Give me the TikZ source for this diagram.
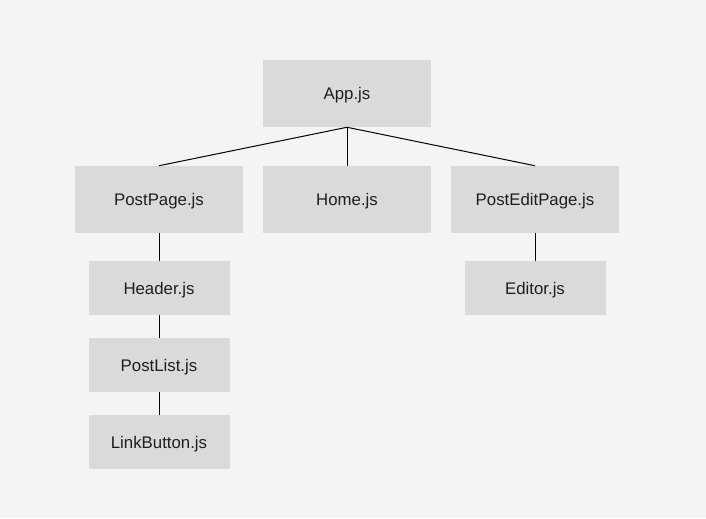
\documentclass[tikz,border=0pt]{standalone}
\usepackage{fontspec}
\setmainfont{Liberation Sans}
\definecolor{bg}{HTML}{F4F4F4}
\definecolor{boxc}{HTML}{DADADA}
\definecolor{txt}{HTML}{1E1E1E}
\begin{document}
\begin{tikzpicture}[x=0.75pt,y=-0.75pt,
  comp/.style={fill=boxc, draw=none, inner sep=0pt, text=txt, font=\fontsize{12.6}{14}\selectfont, text height=9pt, text depth=0pt},
  big/.style={comp, minimum width=126pt, minimum height=50.25pt},
  small/.style={comp, minimum width=105.75pt, minimum height=40.5pt},
  link/.style={draw=black, line width=0.75pt}]
\fill[bg] (0,0) rectangle (706,518);
\useasboundingbox (0,0) rectangle (706,518);
\node[big] (app) at (347,93.5) {App.js};
\node[big] (post) at (159,199.5) {PostPage.js};
\node[big] (home) at (347,199.5) {Home.js};
\node[big] (edit) at (535,199.5) {PostEditPage.js};
\node[small] (header) at (159,288) {Header.js};
\node[small] (list) at (159,365) {PostList.js};
\node[small] (btn) at (159,442) {LinkButton.js};
\node[small] (editor) at (535,288) {Editor.js};
\draw[link] (app.south) -- (post.north);
\draw[link] (app.south) -- (home.north);
\draw[link] (app.south) -- (edit.north);
\draw[link] (post.south) -- (header.north);
\draw[link] (header.south) -- (list.north);
\draw[link] (list.south) -- (btn.north);
\draw[link] (edit.south) -- (editor.north);
\end{tikzpicture}
\end{document}
